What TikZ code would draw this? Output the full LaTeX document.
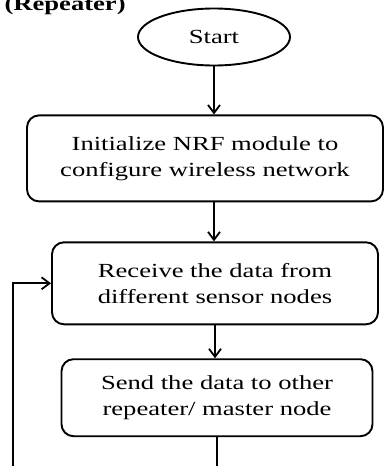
\documentclass[tikz,border=0pt]{standalone}
\usepackage{fontspec}
\setmainfont{Liberation Serif}[FakeStretch=1.33]
\usetikzlibrary{arrows.meta,positioning,shapes.geometric}

\begin{document}
\begin{tikzpicture}[
    inicio/.style={draw,ellipse,line width=1.9pt,minimum width=152pt,minimum height=57pt,
                   inner sep=0pt,font=\fontsize{20}{26}\selectfont},
    passo/.style={draw,rounded corners=12pt,line width=1.9pt,align=center,inner sep=0pt,
                  font=\fontsize{20}{26}\selectfont},
    seta/.style={-{Straight Barb[length=8pt,width=12pt,line width=1.8pt]},line width=2pt}]
  \clip (0,0) rectangle (385pt,-466pt);
  \useasboundingbox (0,0) rectangle (385pt,-466pt);
  \node[anchor=base west,font=\fontsize{20}{26}\selectfont\bfseries] (rep) at (1pt,-10pt) {(Repeater)};
  \node[inicio] (start) at (214pt,-37pt) {Start};
  \node[passo,minimum width=356pt,minimum height=86pt,below=48pt of start,xshift=-9pt] (init)
       {Initialize NRF module to\\configure wireless network};
  \node[passo,minimum width=326pt,minimum height=82pt,below=39pt of init,xshift=10pt] (recv)
       {Receive the data from\\different sensor nodes};
  \node[passo,minimum width=311pt,minimum height=77pt,below=33pt of recv,xshift=2pt] (send)
       {Send the data to other\\repeater/ master node};
  \coordinate (fim) at (13pt,-472pt);
  \coordinate (saida) at (send.south |- fim);
  \draw[seta] (start.south) -- (start.south |- init.north);
  \draw[seta] (init.south -| start) -- (recv.north -| start);
  \draw[seta] (recv.south) -- (send.north -| recv.south);
  \draw[line width=2pt] (send.south) -- (saida);
  \draw[seta] (fim) |- (recv.west);
\end{tikzpicture}
\end{document}
